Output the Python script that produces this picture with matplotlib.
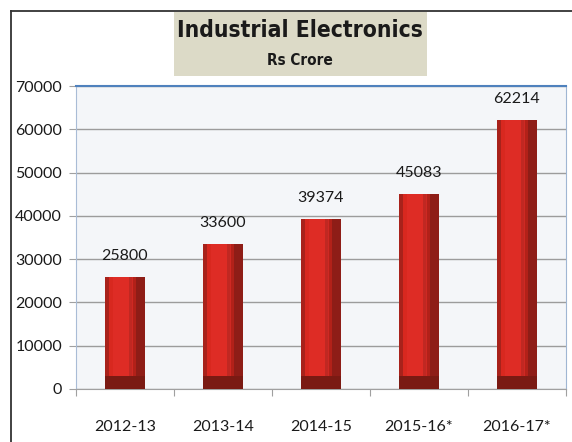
import matplotlib
import matplotlib.pyplot as plt
from matplotlib import font_manager
from matplotlib.patches import Rectangle
from matplotlib.lines import Line2D

matplotlib.use("Agg")

# Data
years = ["2012-13", "2013-14", "2014-15", "2015-16*", "2016-17*"]
values = [25800, 33600, 39374, 45083, 62214]
y_ticks = [0, 10000, 20000, 30000, 40000, 50000, 60000, 70000]


def pick_title_font():
    # prefer a narrow face, like the original
    try:
        fp = font_manager.FontProperties(family="Liberation Sans Narrow", weight="bold")
        font_manager.findfont(fp, fallback_to_default=False)
        return fp
    except Exception:
        pass
    fp = font_manager.FontProperties(family="DejaVu Sans", weight="bold", stretch="condensed")
    if "Condensed" in font_manager.findfont(fp):
        return fp
    return font_manager.FontProperties(family="Roboto", weight="bold")


fig = plt.figure(figsize=(5.72, 4.42), dpi=100)
fig.patch.set_facecolor("white")

# Outer frame (left and top lines)
fig.add_artist(Line2D([11 / 572, 11 / 572], [0, 1 - 11 / 442], color="#333333", lw=1.3))
fig.add_artist(Line2D([11 / 572, 1], [1 - 11 / 442, 1 - 11 / 442], color="#333333", lw=1.3))

# Title box
fig.add_artist(Rectangle((174 / 572, 1 - 76 / 442), 253 / 572, 64 / 442,
                         transform=fig.transFigure, facecolor="#dcdac7", edgecolor="none"))
title_fp = pick_title_font()
t1 = fig.text(0.525, 0.931, "Industrial Electronics", ha="center", va="center",
              fontproperties=title_fp.copy(), color="#1a1a1a")
t2 = fig.text(0.525, 0.862, "Rs Crore", ha="center", va="center",
              fontproperties=title_fp.copy(), color="#1a1a1a")
renderer = fig.canvas.get_renderer()
for t, target_w, start in [(t1, 245, 21), (t2, 66, 12)]:
    t.set_fontsize(start)
    w_px = t.get_window_extent(renderer).width
    t.set_fontsize(start * target_w / w_px)

ax = fig.add_axes([76 / 572, 1 - 389 / 442, 490 / 572, 303 / 442])
ax.set_facecolor("#f4f6f9")

x = list(range(len(years)))
w = 0.4

# Bars with a simple bevel look
ax.bar(x, values, width=w, color="#d8281f", edgecolor="none", zorder=3)
ax.bar([i + w * 0.3 for i in x], values, width=w * 0.4, color="#8e1d17", edgecolor="none", zorder=4)
ax.bar([i + w * 0.22 for i in x], values, width=w * 0.1, color="#b22119", edgecolor="none", zorder=4)
ax.bar([i - w * 0.46 for i in x], values, width=w * 0.08, color="#a8221b", edgecolor="none", zorder=4)
ax.bar(x, [2900] * len(x), width=w, color="#7a1a13", edgecolor="none", zorder=5)
ax.bar([i - w * 0.05 for i in x], [v - 2900 for v in values], bottom=2900, width=w * 0.5,
       color="#e3302a", edgecolor="none", zorder=4, alpha=0.6)

for xi, v in zip(x, values):
    ax.annotate(str(v), (xi, v), xytext=(0, 21), textcoords="offset pixels",
                ha="center", va="center", fontsize=11.5, family="Lato", color="#1a1a1a")

ax.set_xlim(-0.5, len(years) - 0.5)
ax.set_ylim(0, 70000)
ax.set_yticks(y_ticks)
ax.set_yticklabels([str(t) for t in y_ticks], fontsize=11.5, family="Lato", color="#1a1a1a")
ax.grid(axis="y", color="#9c9c9c", lw=1, zorder=1)

ax.set_xticks([i - 0.5 for i in range(len(years) + 1)])
ax.set_xticklabels([])
ax.set_xticks(x, minor=True)
ax.set_xticklabels(years, minor=True, fontsize=11.5, family="Lato", color="#1a1a1a")
ax.tick_params(axis="x", which="minor", length=0, pad=22)
ax.tick_params(axis="x", which="major", length=5, color="#a0a0a0")
ax.tick_params(axis="y", length=5, color="#a0a0a0", pad=5)

ax.spines["top"].set_color("#4f81bd")
ax.spines["top"].set_linewidth(1.5)
ax.spines["right"].set_color("#9fb6d3")
ax.spines["left"].set_color("#a9bcd6")
ax.spines["bottom"].set_color("#a0a0a0")

plt.savefig("out.png", dpi=100)
plt.close(fig)
